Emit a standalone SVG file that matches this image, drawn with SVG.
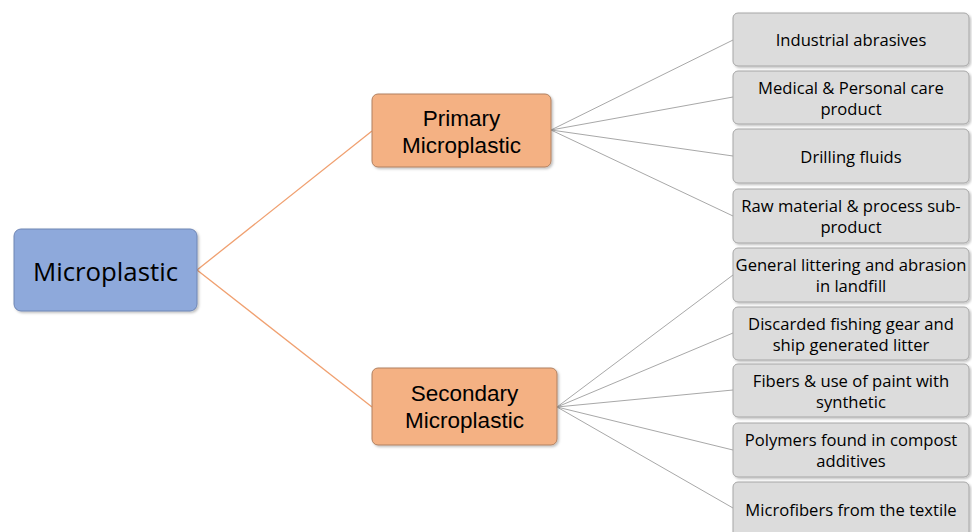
<svg xmlns="http://www.w3.org/2000/svg" width="972" height="532" viewBox="0 0 972 532">
<style>
.t{font-family:"Open Sans","Liberation Sans",sans-serif;fill:#000;text-anchor:middle;dominant-baseline:central}
.s{font-size:16.6px}
.m{font-family:"Liberation Sans",sans-serif;font-size:22.5px}
.b{font-size:25.8px}
.leaf{fill:#DCDCDC;stroke:#A6A6A6;stroke-width:1}
.mid{fill:#F4B183;stroke:#B08060;stroke-width:1}
.root{fill:#8EA9DB;stroke:#6F86B4;stroke-width:1}
.go{stroke:#A8A8A8;stroke-width:1;fill:none}
.oo{stroke:#F0A070;stroke-width:1.3;fill:none}
</style>
<defs>
<filter id="sh" x="-10%" y="-10%" width="130%" height="130%">
<feDropShadow dx="1.5" dy="1.5" stdDeviation="1" flood-color="#000" flood-opacity="0.25"/>
</filter>
</defs>
<rect width="972" height="532" fill="#fff"/>
<g id="connectors">
<line class="oo" x1="197" y1="270" x2="372" y2="131"/>
<line class="oo" x1="197" y1="270" x2="372" y2="407"/>
<line class="go" x1="551" y1="130" x2="733" y2="40"/>
<line class="go" x1="551" y1="130" x2="733" y2="97"/>
<line class="go" x1="551" y1="130" x2="733" y2="156"/>
<line class="go" x1="551" y1="130" x2="733" y2="216"/>
<line class="go" x1="557" y1="407" x2="733" y2="275"/>
<line class="go" x1="557" y1="407" x2="733" y2="333"/>
<line class="go" x1="557" y1="407" x2="733" y2="390"/>
<line class="go" x1="557" y1="407" x2="733" y2="450"/>
<line class="go" x1="557" y1="407" x2="733" y2="508"/>
</g>
<g id="root"><rect class="root" filter="url(#sh)" x="14" y="229" width="183" height="82" rx="7"/><text class="t b" x="105.5" y="271">Microplastic</text></g>
<g id="primary"><rect class="mid" filter="url(#sh)" x="372" y="94" width="179" height="73" rx="6"/><text class="t m" x="461.5" y="118">Primary</text><text class="t m" x="461.5" y="145">Microplastic</text></g>
<g id="secondary"><rect class="mid" filter="url(#sh)" x="372" y="368" width="185" height="77" rx="6"/><text class="t m" x="464.5" y="393">Secondary</text><text class="t m" x="464.5" y="420">Microplastic</text></g>
<g id="n1"><rect class="leaf" filter="url(#sh)" x="733" y="13" width="236" height="53" rx="5"/><text class="t s" x="851" y="39">Industrial abrasives</text></g>
<g id="n2"><rect class="leaf" filter="url(#sh)" x="733" y="71" width="236" height="53" rx="5"/><text class="t s" x="851" y="87">Medical &amp; Personal care</text><text class="t s" x="851" y="108">product</text></g>
<g id="n3"><rect class="leaf" filter="url(#sh)" x="733" y="129" width="236" height="54" rx="5"/><text class="t s" x="851" y="156">Drilling fluids</text></g>
<g id="n4"><rect class="leaf" filter="url(#sh)" x="733" y="189" width="236" height="54" rx="5"/><text class="t s" x="851" y="205">Raw material &amp; process sub-</text><text class="t s" x="851" y="226">product</text></g>
<g id="n5"><rect class="leaf" filter="url(#sh)" x="733" y="248" width="236" height="54" rx="5"/><text class="t s" x="851" y="264">General littering and abrasion</text><text class="t s" x="851" y="285">in landfill</text></g>
<g id="n6"><rect class="leaf" filter="url(#sh)" x="733" y="307" width="236" height="53" rx="5"/><text class="t s" x="851" y="323">Discarded fishing gear and</text><text class="t s" x="851" y="344">ship generated litter</text></g>
<g id="n7"><rect class="leaf" filter="url(#sh)" x="733" y="364" width="236" height="53" rx="5"/><text class="t s" x="851" y="380">Fibers &amp; use of paint with</text><text class="t s" x="851" y="401">synthetic</text></g>
<g id="n8"><rect class="leaf" filter="url(#sh)" x="733" y="423" width="236" height="54" rx="5"/><text class="t s" x="851" y="439">Polymers found in compost</text><text class="t s" x="851" y="460">additives</text></g>
<g id="n9"><rect class="leaf" filter="url(#sh)" x="733" y="482" width="236" height="60" rx="5"/><text class="t s" x="851" y="509">Microfibers from the textile</text></g>
</svg>
